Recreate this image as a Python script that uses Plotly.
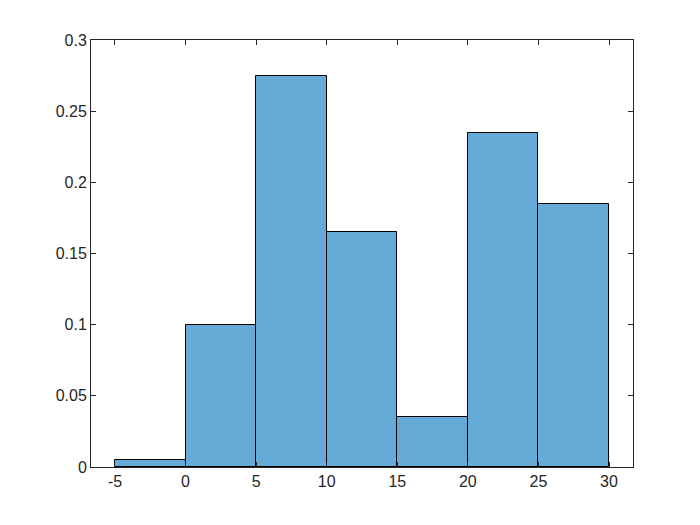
import plotly.graph_objects as go

bin_edges = [-5, 0, 5, 10, 15, 20, 25, 30]
probabilities = [0.005, 0.1, 0.275, 0.165, 0.035, 0.235, 0.185]
x_ticks = [-5, 0, 5, 10, 15, 20, 25, 30]
x_tick_labels = ["-5", "0", "5", "10", "15", "20", "25", "30"]
y_ticks = [0, 0.05, 0.1, 0.15, 0.2, 0.25, 0.3]
y_tick_labels = ["0", "0.05", "0.1", "0.15", "0.2", "0.25", "0.3"]

centers = [(bin_edges[i] + bin_edges[i + 1]) / 2 for i in range(len(probabilities))]
widths = [bin_edges[i + 1] - bin_edges[i] for i in range(len(probabilities))]

fig = go.Figure(go.Bar(
    x=centers, y=probabilities, width=widths,
    marker=dict(color="#66aad7", line=dict(color="black", width=1)),
))

axis_common = dict(
    showgrid=False, zeroline=False, showline=True, linecolor="#262626", linewidth=1,
    mirror="ticks", ticks="inside", ticklen=5, tickcolor="#262626",
    tickfont=dict(family="Liberation Sans, Arial, sans-serif", size=16, color="#262626"),
)

fig.update_layout(
    width=692, height=517,
    margin=dict(l=83, r=67, t=32, b=58),
    plot_bgcolor="white", paper_bgcolor="white",
    showlegend=False, bargap=0,
    xaxis=dict(range=[-6.7, 31.7], tickvals=x_ticks, ticktext=x_tick_labels, **axis_common),
    yaxis=dict(range=[0, 0.3], tickvals=y_ticks, ticktext=y_tick_labels, **axis_common),
)

fig.write_html("out.html")
